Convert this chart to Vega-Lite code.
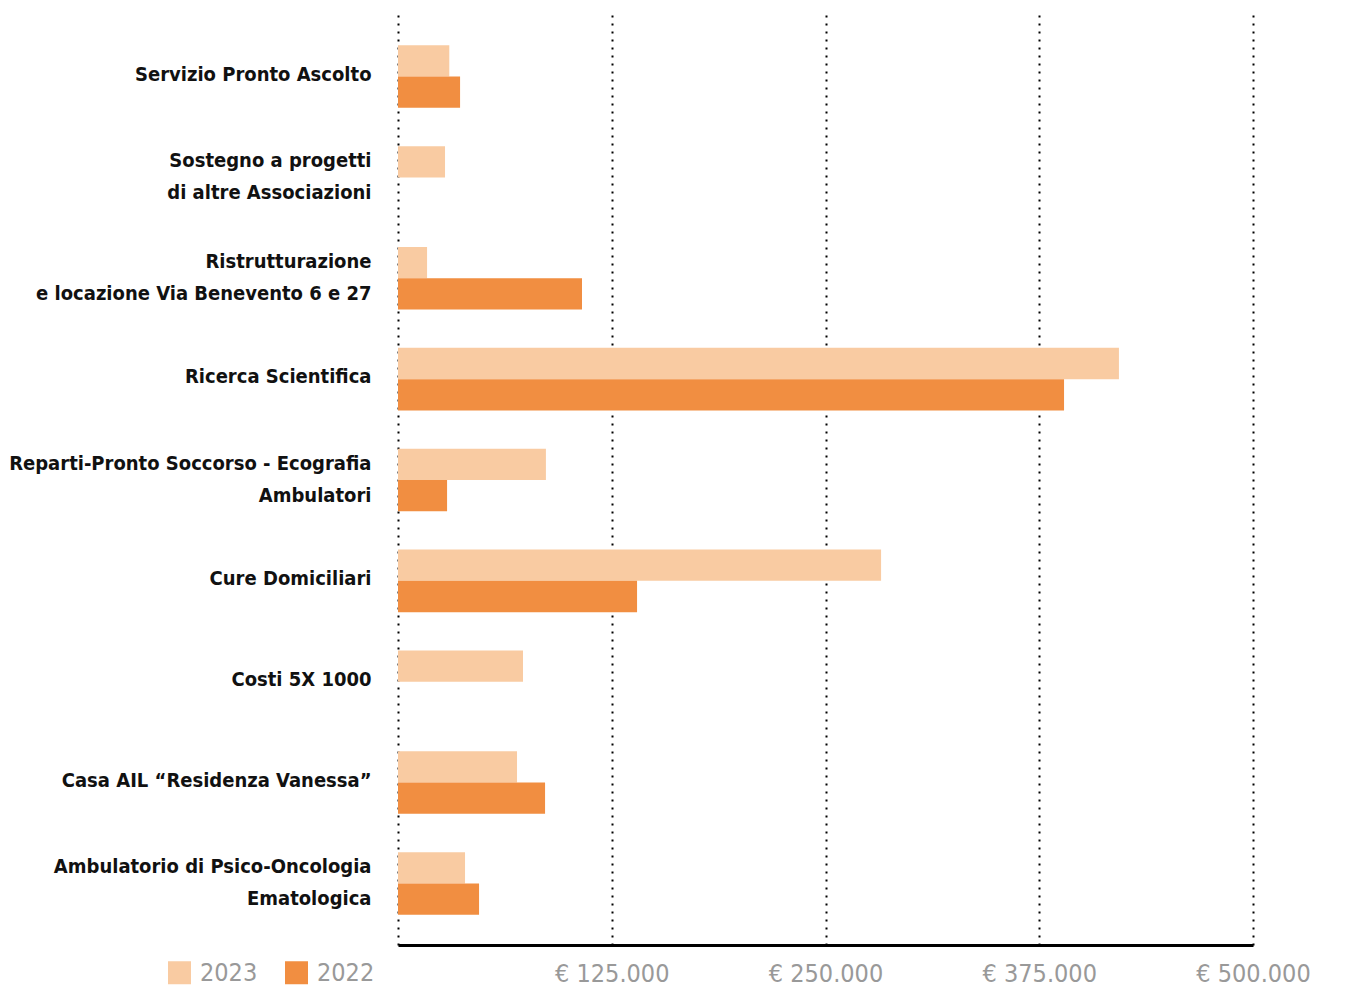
{
  "$schema": "https://vega.github.io/schema/vega-lite/v6.json",
  "width": 855,
  "height": 930,
  "autosize": "none",
  "padding": {"left": 398, "top": 15, "right": 95, "bottom": 47},
  "background": "white",
  "config": {
    "view": {"stroke": null},
    "font": "DejaVu Sans Condensed"
  },
  "data": {
    "values": [
      {"cat": "Servizio Pronto Ascolto", "year": "2023", "value": 30000},
      {"cat": "Servizio Pronto Ascolto", "year": "2022", "value": 36300},
      {"cat": "Sostegno a progetti|di altre Associazioni", "year": "2023", "value": 27500},
      {"cat": "Ristrutturazione|e locazione Via Benevento 6 e 27", "year": "2023", "value": 17000},
      {"cat": "Ristrutturazione|e locazione Via Benevento 6 e 27", "year": "2022", "value": 107600},
      {"cat": "Ricerca Scientifica", "year": "2023", "value": 421600},
      {"cat": "Ricerca Scientifica", "year": "2022", "value": 389500},
      {"cat": "Reparti-Pronto Soccorso - Ecografia|Ambulatori", "year": "2023", "value": 86500},
      {"cat": "Reparti-Pronto Soccorso - Ecografia|Ambulatori", "year": "2022", "value": 28700},
      {"cat": "Cure Domiciliari", "year": "2023", "value": 282500},
      {"cat": "Cure Domiciliari", "year": "2022", "value": 139800},
      {"cat": "Costi 5X 1000", "year": "2023", "value": 73100},
      {"cat": "Casa AIL “Residenza Vanessa”", "year": "2023", "value": 69600},
      {"cat": "Casa AIL “Residenza Vanessa”", "year": "2022", "value": 86000},
      {"cat": "Ambulatorio di Psico-Oncologia|Ematologica", "year": "2023", "value": 39200},
      {"cat": "Ambulatorio di Psico-Oncologia|Ematologica", "year": "2022", "value": 47400}
    ]
  },
  "mark": {"type": "bar"},
  "encoding": {
    "y": {
      "field": "cat",
      "type": "nominal",
      "sort": [
        "Servizio Pronto Ascolto",
        "Sostegno a progetti|di altre Associazioni",
        "Ristrutturazione|e locazione Via Benevento 6 e 27",
        "Ricerca Scientifica",
        "Reparti-Pronto Soccorso - Ecografia|Ambulatori",
        "Cure Domiciliari",
        "Costi 5X 1000",
        "Casa AIL “Residenza Vanessa”",
        "Ambulatorio di Psico-Oncologia|Ematologica"
      ],
      "scale": {"paddingInner": 0.38, "paddingOuter": 0.3},
      "axis": {
        "title": null,
        "domain": false,
        "ticks": false,
        "grid": false,
        "labelExpr": "split(datum.label, '|')",
        "labelFontSize": 20,
        "labelFont": "DejaVu Sans Condensed",
        "labelFontWeight": "bold",
        "labelColor": "#111111",
        "labelPadding": 27,
        "labelLineHeight": 32,
        "labelLimit": 400,
        "labelOffset": {"condition": {"test": "indexof(datum.value, '|') >= 0", "value": -16}, "value": -2}
      }
    },
    "yOffset": {
      "field": "year",
      "type": "nominal",
      "sort": ["2023", "2022"],
      "scale": {"domain": ["2023", "2022"], "paddingInner": 0, "paddingOuter": 0}
    },
    "x": {
      "field": "value",
      "type": "quantitative",
      "scale": {"domain": [0, 500000], "nice": false},
      "axis": {
        "title": null,
        "values": [0, 125000, 250000, 375000, 500000],
        "labelExpr": "datum.value == 0 ? '' : '€ ' + format(datum.value / 1000, 'd') + '.000'",
        "labelFontSize": 25,
        "labelFont": "DejaVu Sans Condensed",
        "labelColor": "#999999",
        "labelPadding": 16,
        "labelFlush": false,
        "labelOverlap": false,
        "ticks": false,
        "domain": true,
        "domainColor": "#000000",
        "domainWidth": 3,
        "grid": true,
        "gridColor": "#000000",
        "gridDash": [2, 6],
        "gridWidth": 2,
        "gridOpacity": 1
      }
    },
    "color": {
      "field": "year",
      "type": "nominal",
      "scale": {"domain": ["2023", "2022"], "range": ["#F9CBA2", "#F18E41"]},
      "legend": {
        "title": null,
        "orient": "none",
        "direction": "horizontal",
        "legendX": -231,
        "legendY": 945,
        "symbolType": "square",
        "symbolSize": 529,
        "symbolStrokeWidth": 0,
        "symbolOpacity": 1,
        "labelFontSize": 25,
        "labelFont": "DejaVu Sans Condensed",
        "labelColor": "#999999",
        "labelOffset": 8,
        "columnPadding": 26
      }
    }
  }
}
